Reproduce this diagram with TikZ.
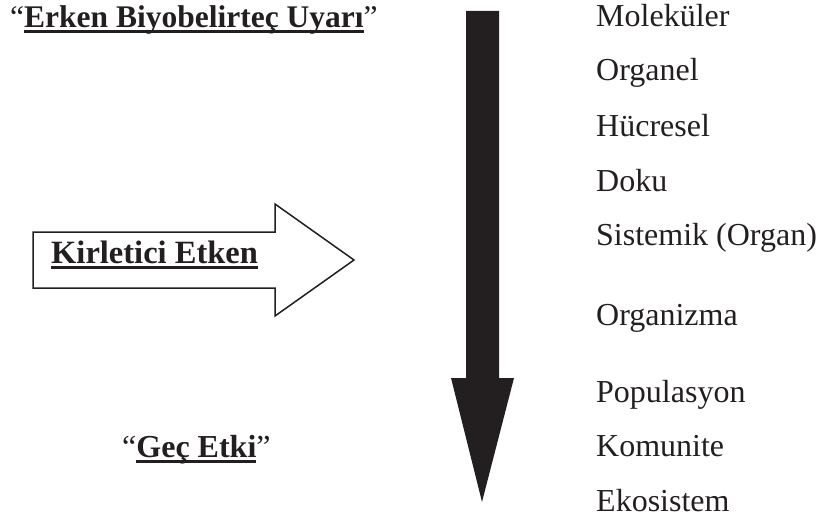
\documentclass[tikz,border=0pt]{standalone}
\usepackage{fontspec}
\setmainfont{Liberation Serif}
\usepackage{tikz}
\usetikzlibrary{positioning}
\definecolor{ink}{HTML}{231F20}
\newcommand{\undrl}[1]{\setbox0\hbox{\bfseries #1}\rlap{\color{ink}\rule[-5.5pt]{\wd0}{3pt}}\box0}
\tikzset{
  lbl/.style={anchor=base west,inner sep=0pt,text=ink,font=\fontsize{32}{36}\selectfont},
  arr/.style={fill=ink,draw=none},
  blk/.style={draw=ink,fill=white,line width=1.5pt,line join=miter}
}

\begin{document}
\begin{tikzpicture}[x=1pt,y=-1pt]
\useasboundingbox (0,0) rectangle (817,519);
% headings on the left
\node[lbl,font=\fontsize{31.5}{36}\selectfont] (early) at (10,28) {``\undrl{Erken Biyobelirteç Uyarı}''};
\node[lbl] (late) at (122,457) {``\undrl{Geç Etki}''};
% open arrow with the pollutant
\draw[blk] (33,232) -- (275,232) -- (275,204) -- (354,260) -- (275,316) -- (275,288) -- (33,288) -- cycle;
\node[lbl,font=\fontsize{32.5}{36}\selectfont] (agent) at (51,263) {\undrl{Kirletici Etken}};
% long solid arrow down the levels
\fill[arr] (466,11) -- (499,11) -- (499,378) -- (514,378) -- (482,502) -- (451,378) -- (466,378) -- cycle;
% levels of organisation
\foreach \y/\t [count=\i] in {27/Moleküler,81/Organel,136/Hücresel,191/Doku,245/{Sistemik (Organ)},325/Organizma,402/Populasyon,456/Komunite,511/Ekosistem}
  \node[lbl] (lvl\i) at (596,\y) {\t};
\end{tikzpicture}
\end{document}
